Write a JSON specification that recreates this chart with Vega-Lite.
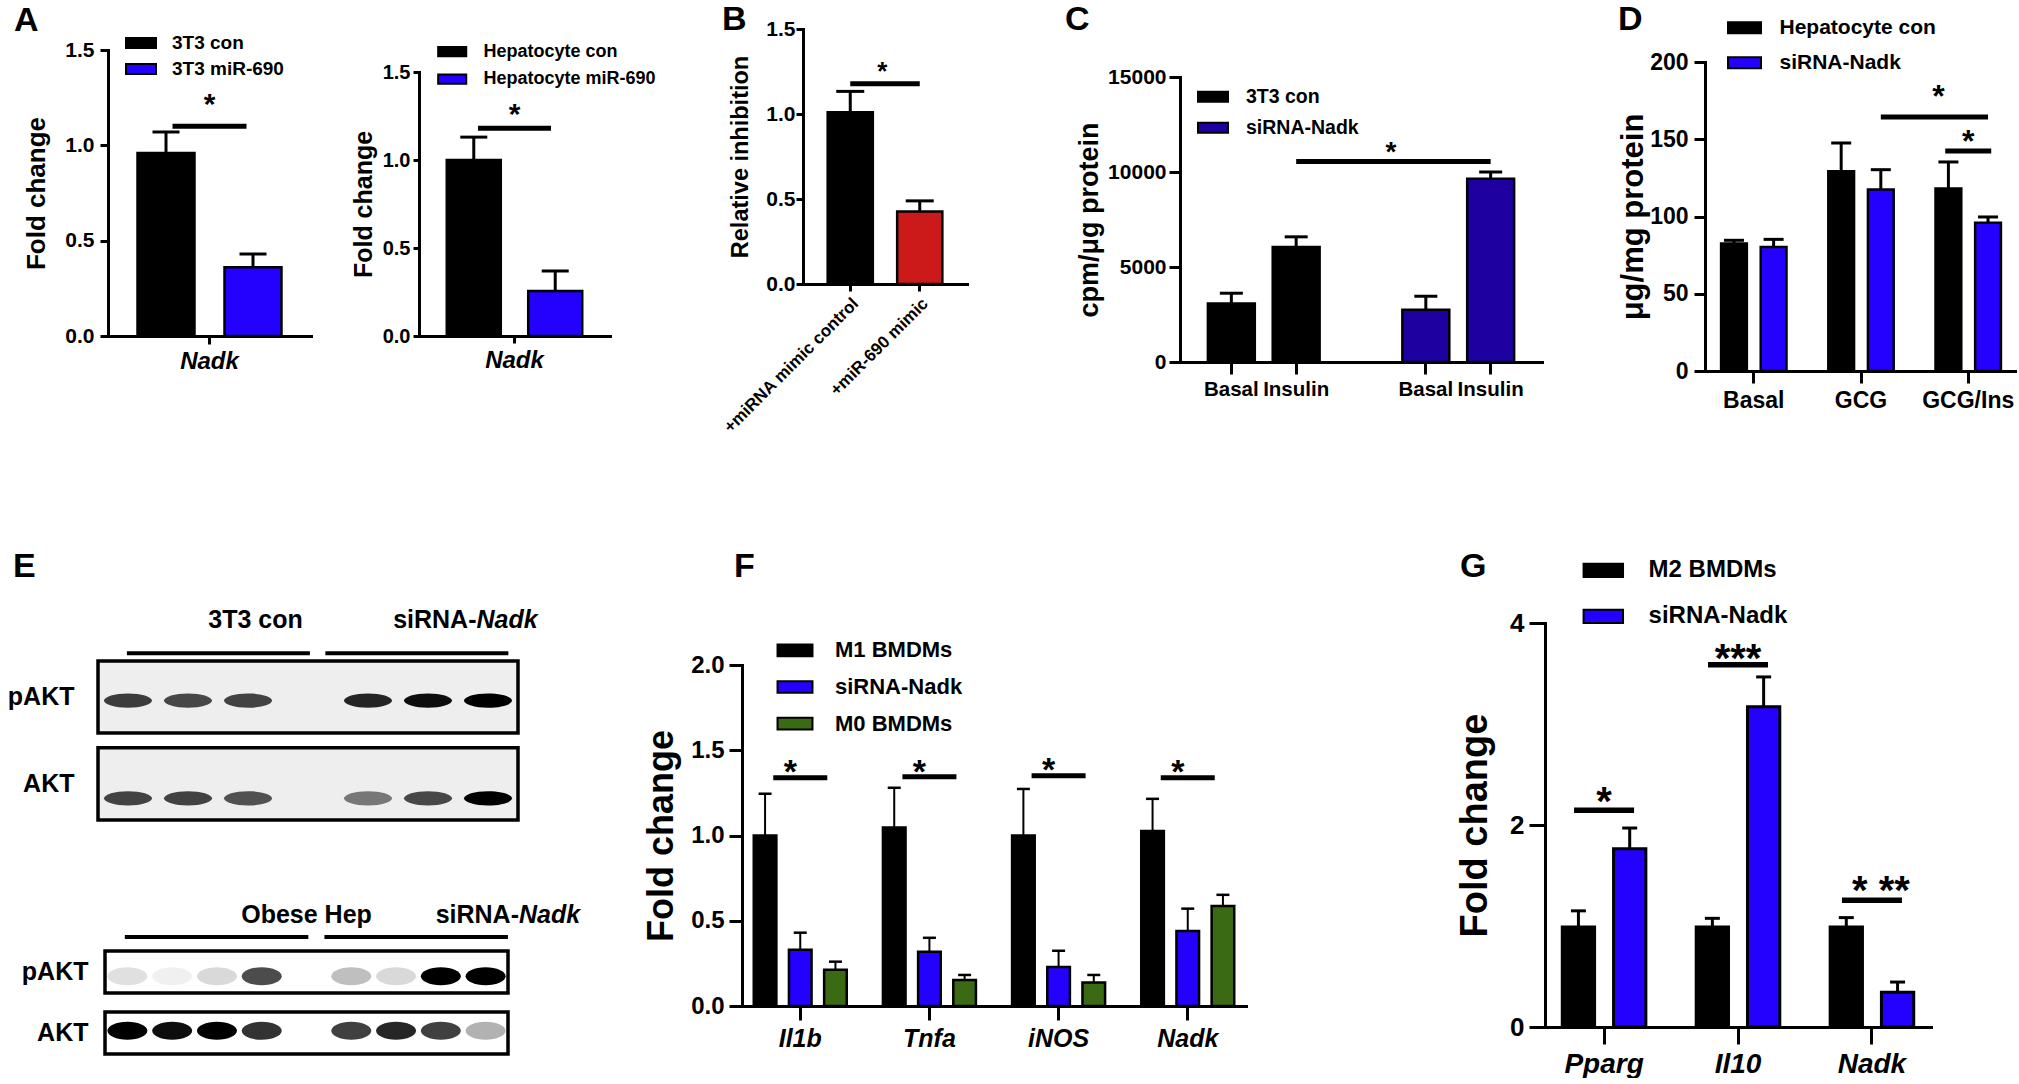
{
"$schema":"https://vega.github.io/schema/vega-lite/v6.json",
"background":"white",
"padding":0,
"autosize":{"type":"pad"},
"config":{
 "view":{"stroke":null},
 "font":"Liberation Sans",
 "axis":{"domainColor":"black","domainWidth":3,"domainCap":"square","tickColor":"black","tickWidth":3,"labelColor":"black","labelFont":"Liberation Sans","labelFontWeight":"bold","labelLimit":400,"titleColor":"black","titleFont":"Liberation Sans","titleFontWeight":"bold","grid":false},
 "legend":{"labelFont":"Liberation Sans","labelColor":"black","labelFontWeight":"bold","labelLimit":500,"padding":0,"symbolStrokeColor":"black","symbolStrokeWidth":2,"symbolOpacity":1},
 "tick":{"opacity":1},
 "text":{"font":"Liberation Sans","color":"black"},
 "title":{"font":"Liberation Sans","color":"black"}
},
"spacing":0,
"resolve":{"scale":{"color":"independent","xOffset":"independent","opacity":"independent"},"legend":{"color":"independent","opacity":"independent"}},
"vconcat":[
{"hconcat":[
 {"width":108,"height":440,"data":{"values":[]},"mark":"text"},
 {"vconcat":[
  {"width":1,"height":50,"data":{"values":[]},"mark":"text","title":{"text":"A","orient":"bottom","anchor":"start","frame":"group","baseline":"alphabetic","offset":-19,"dx":-94,"fontSize":34,"fontWeight":"bold"}},
  {"width":203,"height":286,
   "data":{"values":[
    {"gene":"Nadk","group":"3T3 con","mean":0.96,"upper":1.07},
    {"gene":"Nadk","group":"3T3 miR-690","mean":0.36,"upper":0.43}]},
   "encoding":{"x":{"field":"gene","type":"nominal","scale":{"paddingInner":0,"paddingOuter":0.205},"axis":{"title":null,"labelAngle":0,"labelFontSize":24,"labelFontStyle":"italic","tickSize":8,"labelPadding":5}}},
   "layer":[
    {"mark":{"type":"rule","color":"black","strokeWidth":3},"encoding":{"xOffset":{"field":"group","type":"nominal","scale":{"domain":["3T3 con","3T3 miR-690"],"paddingInner":0.345,"paddingOuter":0}},"y":{"field":"mean","type":"quantitative","title":"Fold change","scale":{"domain":[0,1.5]}},"y2":{"field":"upper"}}},
    {"mark":{"type":"tick","orient":"horizontal","color":"black","opacity":1,"size":27,"thickness":3},"encoding":{"xOffset":{"field":"group","type":"nominal","scale":{"domain":["3T3 con","3T3 miR-690"],"paddingInner":0.345,"paddingOuter":0}},"y":{"field":"upper","type":"quantitative","title":"Fold change","scale":{"domain":[0,1.5]}}}},
    {"mark":{"type":"bar","stroke":"black","strokeWidth":2.5},"encoding":{"xOffset":{"field":"group","type":"nominal","scale":{"domain":["3T3 con","3T3 miR-690"],"paddingInner":0.345,"paddingOuter":0}},"y":{"field":"mean","type":"quantitative","title":"Fold change","scale":{"domain":[0,1.5]},"axis":{"values":[0,0.5,1,1.5],"format":".1f","labelFontSize":21,"tickSize":8,"labelPadding":6,"titleFontSize":26,"titlePadding":15}},"color":{"field":"group","type":"nominal","scale":{"domain":["3T3 con","3T3 miR-690"],"range":["#000000","#2400ff"]},"legend":{"orient":"none","legendX":22,"legendY":-18,"title":null,"symbolType":"M-1.5,-0.5H1.5V0.5H-1.5Z","symbolSize":400,"labelFontSize":19,"labelOffset":20,"rowPadding":5}}}},
    {"data":{"values":[{"gene":"Nadk","level":1.1}]},"mark":{"type":"tick","orient":"horizontal","color":"black","opacity":1,"size":74,"thickness":5},"encoding":{"y":{"field":"level","type":"quantitative","title":"Fold change","scale":{"domain":[0,1.5]}}}},
    {"data":{"values":[{"gene":"Nadk","level":1.162,"label":"*"}]},"mark":{"type":"text","fontSize":30,"fontWeight":"bold","baseline":"alphabetic"},"encoding":{"y":{"field":"level","type":"quantitative","title":"Fold change","scale":{"domain":[0,1.5]}},"text":{"field":"label"}}}
   ]}
 ],"spacing":0,"bounds":"flush","resolve":{"scale":{"color":"independent","xOffset":"independent","opacity":"independent"},"legend":{"color":"independent","opacity":"independent"}}},
 {"width":311,"height":1,"data":{"values":[]},"mark":"text"},
 {"vconcat":[
  {"width":1,"height":72,"data":{"values":[]},"mark":"text"},
  {"width":191,"height":264,
   "data":{"values":[
    {"gene":"Nadk","group":"Hepatocyte con","mean":1.0,"upper":1.13},
    {"gene":"Nadk","group":"Hepatocyte miR-690","mean":0.255,"upper":0.37}]},
   "encoding":{"x":{"field":"gene","type":"nominal","scale":{"paddingInner":0,"paddingOuter":0.205},"axis":{"title":null,"labelAngle":0,"labelFontSize":24,"labelFontStyle":"italic","tickSize":7,"labelPadding":5}}},
   "layer":[
    {"mark":{"type":"rule","color":"black","strokeWidth":3},"encoding":{"xOffset":{"field":"group","type":"nominal","scale":{"domain":["Hepatocyte con","Hepatocyte miR-690"],"paddingInner":0.337,"paddingOuter":0}},"y":{"field":"mean","type":"quantitative","title":"Fold change","scale":{"domain":[0,1.5]}},"y2":{"field":"upper"}}},
    {"mark":{"type":"tick","orient":"horizontal","color":"black","opacity":1,"size":27,"thickness":3},"encoding":{"xOffset":{"field":"group","type":"nominal","scale":{"domain":["Hepatocyte con","Hepatocyte miR-690"],"paddingInner":0.337,"paddingOuter":0}},"y":{"field":"upper","type":"quantitative","title":"Fold change","scale":{"domain":[0,1.5]}}}},
    {"mark":{"type":"bar","stroke":"black","strokeWidth":2.5},"encoding":{"xOffset":{"field":"group","type":"nominal","scale":{"domain":["Hepatocyte con","Hepatocyte miR-690"],"paddingInner":0.337,"paddingOuter":0}},"y":{"field":"mean","type":"quantitative","title":"Fold change","scale":{"domain":[0,1.5]},"axis":{"values":[0,0.5,1,1.5],"format":".1f","labelFontSize":20,"tickSize":6,"labelPadding":3,"titleFontSize":25,"titlePadding":6}},"color":{"field":"group","type":"nominal","scale":{"domain":["Hepatocyte con","Hepatocyte miR-690"],"range":["#000000","#2400ff"]},"legend":{"orient":"none","legendX":22.7,"legendY":-30.9,"title":null,"symbolType":"M-1.5,-0.5H1.5V0.5H-1.5Z","symbolSize":350,"labelFontSize":18,"labelOffset":20.7,"rowPadding":7.5}}}},
    {"data":{"values":[{"gene":"Nadk","level":1.181}]},"mark":{"type":"tick","orient":"horizontal","color":"black","opacity":1,"size":73,"thickness":5},"encoding":{"y":{"field":"level","type":"quantitative","title":"Fold change","scale":{"domain":[0,1.5]}}}},
    {"data":{"values":[{"gene":"Nadk","level":1.206,"label":"*"}]},"mark":{"type":"text","fontSize":30,"fontWeight":"bold","baseline":"alphabetic"},"encoding":{"y":{"field":"level","type":"quantitative","title":"Fold change","scale":{"domain":[0,1.5]}},"text":{"field":"label"}}}
   ]}
 ],"spacing":0,"bounds":"flush","resolve":{"scale":{"color":"independent","xOffset":"independent","opacity":"independent"},"legend":{"color":"independent","opacity":"independent"}}},
 {"width":384,"height":1,"data":{"values":[]},"mark":"text"},
 {"vconcat":[
  {"width":1,"height":29,"data":{"values":[]},"mark":"text","title":{"text":"B","orient":"bottom","anchor":"start","frame":"group","baseline":"alphabetic","offset":1,"dx":-81,"fontSize":34,"fontWeight":"bold"}},
  {"width":164,"height":255,
   "data":{"values":[
    {"cond":"+miRNA mimic control","mean":1.01,"upper":1.133},
    {"cond":"+miR-690 mimic","mean":0.426,"upper":0.489}]},
   "encoding":{"x":{"field":"cond","type":"nominal","scale":{"domain":["+miRNA mimic control","+miR-690 mimic"],"paddingInner":0.35,"paddingOuter":0.355},"axis":{"title":null,"labelAngle":-45,"labelFontSize":17,"labelLimit":400,"tickSize":7,"labelPadding":4}}},
   "layer":[
    {"mark":{"type":"rule","color":"black","strokeWidth":3},"encoding":{"y":{"field":"mean","type":"quantitative","title":"Relative inhibition","scale":{"domain":[0,1.5]}},"y2":{"field":"upper"}}},
    {"mark":{"type":"tick","orient":"horizontal","color":"black","opacity":1,"size":28,"thickness":3},"encoding":{"y":{"field":"upper","type":"quantitative","title":"Relative inhibition","scale":{"domain":[0,1.5]}}}},
    {"mark":{"type":"bar","stroke":"black","strokeWidth":2.5},"encoding":{"y":{"field":"mean","type":"quantitative","title":"Relative inhibition","scale":{"domain":[0,1.5]},"axis":{"values":[0,0.5,1,1.5],"format":".1f","labelFontSize":21,"tickSize":7,"labelPadding":1,"titleFontSize":23.5,"titlePadding":13}},"color":{"field":"cond","type":"nominal","scale":{"domain":["+miRNA mimic control","+miR-690 mimic"],"range":["#000000","#cc1a1a"]},"legend":null}}},
    {"data":{"values":[{"cond":"+miRNA mimic control","level":1.178,"id":"b"},{"cond":"+miR-690 mimic","level":1.178,"id":"b"}]},"mark":{"type":"line","color":"black","strokeWidth":5},"encoding":{"y":{"field":"level","type":"quantitative","title":"Relative inhibition","scale":{"domain":[0,1.5]}},"detail":{"field":"id"}}},
    {"data":{"values":[{"cond":"+miRNA mimic control","level":1.2,"label":"*"}]},"mark":{"type":"text","fontSize":26,"fontWeight":"bold","baseline":"alphabetic","dx":32},"encoding":{"y":{"field":"level","type":"quantitative","title":"Relative inhibition","scale":{"domain":[0,1.5]}},"text":{"field":"label"}}}
   ]}
 ],"spacing":0,"bounds":"flush","resolve":{"scale":{"color":"independent","xOffset":"independent","opacity":"independent"},"legend":{"color":"independent","opacity":"independent"}}},
 {"width":377,"height":1,"data":{"values":[]},"mark":"text"},
 {"vconcat":[
  {"width":1,"height":77,"data":{"values":[]},"mark":"text","title":{"text":"C","orient":"bottom","anchor":"start","frame":"group","baseline":"alphabetic","offset":-47,"dx":-115,"fontSize":34,"fontWeight":"bold"}},
  {"width":362,"height":285,
   "data":{"values":[
    {"bar":"con|Basal","group":"3T3 con","mean":3074,"upper":3620},
    {"bar":"con|Insulin","group":"3T3 con","mean":6058,"upper":6588},
    {"bar":"si|Basal","group":"siRNA-Nadk","mean":2756,"upper":3461},
    {"bar":"si|Insulin","group":"siRNA-Nadk","mean":9646,"upper":10000}]},
   "encoding":{"x":{"field":"bar","type":"nominal","scale":{"domain":["con|Basal","con|Insulin","gap","si|Basal","si|Insulin"],"paddingInner":0.276,"paddingOuter":0.43},"axis":{"title":null,"values":["con|Basal","con|Insulin","si|Basal","si|Insulin"],"labelExpr":"split(datum.label,'|')[1]","labelAngle":0,"labelFontSize":20.5,"tickSize":12,"labelPadding":5}}},
   "layer":[
    {"mark":{"type":"rule","color":"black","strokeWidth":3},"encoding":{"y":{"field":"mean","type":"quantitative","title":"cpm/μg protein","scale":{"domain":[0,15000]}},"y2":{"field":"upper"}}},
    {"mark":{"type":"tick","orient":"horizontal","color":"black","opacity":1,"size":23,"thickness":3},"encoding":{"y":{"field":"upper","type":"quantitative","title":"cpm/μg protein","scale":{"domain":[0,15000]}}}},
    {"mark":{"type":"bar","stroke":"black","strokeWidth":2.5},"encoding":{"y":{"field":"mean","type":"quantitative","title":"cpm/μg protein","scale":{"domain":[0,15000]},"axis":{"values":[0,5000,10000,15000],"format":"d","labelFontSize":21,"tickSize":11,"labelPadding":3,"titleFontSize":27,"titlePadding":4}},"color":{"field":"group","type":"nominal","scale":{"domain":["3T3 con","siRNA-Nadk"],"range":["#000000","#1e00a0"]},"legend":{"orient":"none","legendX":22,"legendY":8.7,"title":null,"symbolType":"M-1.5,-0.5H1.5V0.5H-1.5Z","symbolSize":400,"labelFontSize":19.5,"labelOffset":22,"rowPadding":10}}}},
    {"data":{"values":[{"bar":"con|Insulin","level":10547,"id":"c"},{"bar":"si|Insulin","level":10547,"id":"c"}]},"mark":{"type":"line","color":"black","strokeWidth":5},"encoding":{"y":{"field":"level","type":"quantitative","title":"cpm/μg protein","scale":{"domain":[0,15000]}},"detail":{"field":"id"}}},
    {"data":{"values":[{"bar":"gap","level":10579,"label":"*"}]},"mark":{"type":"text","fontSize":28,"fontWeight":"bold","baseline":"alphabetic","dx":30},"encoding":{"y":{"field":"level","type":"quantitative","title":"cpm/μg protein","scale":{"domain":[0,15000]}},"text":{"field":"label"}}}
   ]}
 ],"spacing":0,"bounds":"flush","resolve":{"scale":{"color":"independent","xOffset":"independent","opacity":"independent"},"legend":{"color":"independent","opacity":"independent"}}},
 {"width":525,"height":1,"data":{"values":[]},"mark":"text"},
 {"vconcat":[
  {"width":1,"height":62,"data":{"values":[]},"mark":"text","title":{"text":"D","orient":"bottom","anchor":"start","frame":"group","baseline":"alphabetic","offset":-32,"dx":-87,"fontSize":34,"fontWeight":"bold"}},
  {"width":312,"height":309,
   "data":{"values":[
    {"cond":"Basal","series":"Hepatocyte con","mean":82.5,"upper":84.6},
    {"cond":"Basal","series":"siRNA-Nadk","mean":80.3,"upper":85.2},
    {"cond":"GCG","series":"Hepatocyte con","mean":129.3,"upper":147.6},
    {"cond":"GCG","series":"siRNA-Nadk","mean":117.4,"upper":130.3},
    {"cond":"GCG/Ins","series":"Hepatocyte con","mean":118.1,"upper":135.3},
    {"cond":"GCG/Ins","series":"siRNA-Nadk","mean":96.0,"upper":99.7}]},
   "encoding":{"x":{"field":"cond","type":"nominal","scale":{"domain":["Basal","GCG","GCG/Ins"],"paddingInner":0.39,"paddingOuter":0.15},"axis":{"title":null,"labelAngle":0,"labelFontSize":23,"tickSize":12,"labelPadding":6}}},
   "layer":[
    {"mark":{"type":"rule","color":"black","strokeWidth":3},"encoding":{"xOffset":{"field":"series","type":"nominal","scale":{"domain":["Hepatocyte con","siRNA-Nadk"],"paddingInner":0.35,"paddingOuter":0}},"y":{"field":"mean","type":"quantitative","title":"μg/mg protein","scale":{"domain":[0,200]}},"y2":{"field":"upper"}}},
    {"mark":{"type":"tick","orient":"horizontal","color":"black","opacity":1,"size":20,"thickness":3},"encoding":{"xOffset":{"field":"series","type":"nominal","scale":{"domain":["Hepatocyte con","siRNA-Nadk"],"paddingInner":0.35,"paddingOuter":0}},"y":{"field":"upper","type":"quantitative","title":"μg/mg protein","scale":{"domain":[0,200]}}}},
    {"mark":{"type":"bar","stroke":"black","strokeWidth":2.5},"encoding":{"xOffset":{"field":"series","type":"nominal","scale":{"domain":["Hepatocyte con","siRNA-Nadk"],"paddingInner":0.35,"paddingOuter":0}},"y":{"field":"mean","type":"quantitative","title":"μg/mg protein","scale":{"domain":[0,200]},"axis":{"values":[0,50,100,150,200],"labelFontSize":23,"tickSize":11,"labelPadding":6,"titleFontSize":31,"titlePadding":0}},"color":{"field":"series","type":"nominal","scale":{"domain":["Hepatocyte con","siRNA-Nadk"],"range":["#000000","#2400ff"]},"legend":{"orient":"none","legendX":27.5,"legendY":-46.3,"title":null,"symbolType":"M-1.5,-0.5H1.5V0.5H-1.5Z","symbolSize":484,"labelFontSize":21,"labelOffset":23,"rowPadding":13}}}},
    {"data":{"values":[{"cond":"GCG","series":"siRNA-Nadk","level":164.4,"id":"u"},{"cond":"GCG/Ins","series":"siRNA-Nadk","level":164.4,"id":"u"}]},"mark":{"type":"line","color":"black","strokeWidth":5},"encoding":{"xOffset":{"field":"series","type":"nominal","scale":{"domain":["Hepatocyte con","siRNA-Nadk"],"paddingInner":0.35,"paddingOuter":0}},"y":{"field":"level","type":"quantitative","title":"μg/mg protein","scale":{"domain":[0,200]}},"detail":{"field":"id"}}},
    {"data":{"values":[{"cond":"GCG/Ins","level":142.4}]},"mark":{"type":"tick","orient":"horizontal","color":"black","opacity":1,"size":46,"thickness":5},"encoding":{"y":{"field":"level","type":"quantitative","title":"μg/mg protein","scale":{"domain":[0,200]}}}},
    {"data":{"values":[{"cond":"GCG/Ins","series":"Hepatocyte con","level":170.8,"label":"*"}]},"mark":{"type":"text","fontSize":32,"fontWeight":"bold","baseline":"alphabetic","dx":-10},"encoding":{"xOffset":{"field":"series","type":"nominal","scale":{"domain":["Hepatocyte con","siRNA-Nadk"],"paddingInner":0.35,"paddingOuter":0}},"y":{"field":"level","type":"quantitative","title":"μg/mg protein","scale":{"domain":[0,200]}},"text":{"field":"label"}}},
    {"data":{"values":[{"cond":"GCG/Ins","level":141.7,"label":"*"}]},"mark":{"type":"text","fontSize":32,"fontWeight":"bold","baseline":"alphabetic"},"encoding":{"y":{"field":"level","type":"quantitative","title":"μg/mg protein","scale":{"domain":[0,200]}},"text":{"field":"label"}}}
   ]}
 ],"spacing":0,"bounds":"flush","resolve":{"scale":{"color":"independent","xOffset":"independent","opacity":"independent"},"legend":{"color":"independent","opacity":"independent"}}}
],"spacing":0,"bounds":"flush","resolve":{"scale":{"color":"independent","xOffset":"independent","opacity":"independent"},"legend":{"color":"independent","opacity":"independent"}}},
{"hconcat":[
 {"width":98,"height":1,"data":{"values":[]},"mark":"text"},
 {"vconcat":[
  {"width":1,"height":134,"data":{"values":[]},"mark":"text","title":{"text":"E","orient":"bottom","anchor":"start","frame":"group","baseline":"alphabetic","offset":3,"dx":-85,"fontSize":34,"fontWeight":"bold"}},
  {"width":420,"height":246,
   "data":{"values":[
    {"lane":"c1","row":"pAKT","intensity":0.75},{"lane":"c2","row":"pAKT","intensity":0.7},{"lane":"c3","row":"pAKT","intensity":0.72},
    {"lane":"s1","row":"pAKT","intensity":0.85},{"lane":"s2","row":"pAKT","intensity":0.95},{"lane":"s3","row":"pAKT","intensity":1.0},
    {"lane":"c1","row":"AKT","intensity":0.72},{"lane":"c2","row":"AKT","intensity":0.72},{"lane":"c3","row":"AKT","intensity":0.66},
    {"lane":"s1","row":"AKT","intensity":0.5},{"lane":"s2","row":"AKT","intensity":0.7},{"lane":"s3","row":"AKT","intensity":1.0}]},
   "layer":[
    {"data":{"values":[{"row":"pAKT"},{"row":"AKT"}]},"mark":{"type":"rect","fill":"#eeeeee","stroke":"black","strokeWidth":3.5},"encoding":{"y":{"field":"row","type":"nominal","scale":{"domain":["hdr","pAKT","AKT"],"paddingInner":0.17,"paddingOuter":0},"axis":{"title":null,"domain":false,"ticks":false,"labelFontSize":25,"labelPadding":24,"labelExpr":"datum.value == 'hdr' ? '' : datum.value"}}}},
    {"transform":[{"filter":"datum.row == 'pAKT'"}],"mark":{"type":"point","shape":"M-1,0A1,0.3 0 1,0 1,0A1,0.3 0 1,0 -1,0Z","filled":true,"color":"black","size":2300,"strokeWidth":0},"encoding":{"x":{"field":"lane","type":"nominal","scale":{"domain":["c1","c2","c3","gap","s1","s2","s3"],"paddingInner":0,"paddingOuter":0.07},"axis":null},"y":{"field":"row","type":"nominal","bandPosition":0.55,"scale":{"domain":["hdr","pAKT","AKT"],"paddingInner":0.17,"paddingOuter":0}},"opacity":{"field":"intensity","type":"quantitative","scale":{"domain":[0,1],"range":[0,1]},"legend":null}}},
    {"transform":[{"filter":"datum.row == 'AKT'"}],"mark":{"type":"point","shape":"M-1,0A1,0.3 0 1,0 1,0A1,0.3 0 1,0 -1,0Z","filled":true,"color":"black","size":2300,"strokeWidth":0},"encoding":{"x":{"field":"lane","type":"nominal","scale":{"domain":["c1","c2","c3","gap","s1","s2","s3"],"paddingInner":0,"paddingOuter":0.07},"axis":null},"y":{"field":"row","type":"nominal","bandPosition":0.7,"scale":{"domain":["hdr","pAKT","AKT"],"paddingInner":0.17,"paddingOuter":0}},"opacity":{"field":"intensity","type":"quantitative","scale":{"domain":[0,1],"range":[0,1]},"legend":null}}},
    {"data":{"values":[{"grp":"con","row":"hdr"},{"grp":"si","row":"hdr"}]},"mark":{"type":"tick","orient":"horizontal","color":"black","opacity":1,"size":183,"thickness":4},"encoding":{"x":{"field":"grp","type":"nominal","scale":{"domain":["con","si"],"paddingInner":0.078,"paddingOuter":0.097,"align":0.75},"axis":null},"y":{"field":"row","type":"nominal","bandPosition":1.1,"scale":{"domain":["hdr","pAKT","AKT"],"paddingInner":0.17,"paddingOuter":0}}}},
    {"data":{"values":[{"grp":"con","row":"hdr","label":"3T3 con"}]},"mark":{"type":"text","fontSize":25,"fontWeight":"bold","align":"center","baseline":"middle"},"encoding":{"x":{"field":"grp","type":"nominal","scale":{"domain":["con","si"],"paddingInner":0.078,"paddingOuter":0.097,"align":0.75},"axis":null},"y":{"field":"row","type":"nominal","bandPosition":0.64,"scale":{"domain":["hdr","pAKT","AKT"],"paddingInner":0.17,"paddingOuter":0}},"text":{"field":"label"}}},
    {"data":{"values":[{"grp":"si","row":"hdr","label":"siRNA-"}]},"mark":{"type":"text","fontSize":25,"fontWeight":"bold","align":"right","baseline":"middle","dx":11},"encoding":{"x":{"field":"grp","type":"nominal","scale":{"domain":["con","si"],"paddingInner":0.078,"paddingOuter":0.097,"align":0.75},"axis":null},"y":{"field":"row","type":"nominal","bandPosition":0.64,"scale":{"domain":["hdr","pAKT","AKT"],"paddingInner":0.17,"paddingOuter":0}},"text":{"field":"label"}}},
    {"data":{"values":[{"grp":"si","row":"hdr","label":"Nadk"}]},"mark":{"type":"text","fontSize":25,"fontWeight":"bold","fontStyle":"italic","align":"left","baseline":"middle","dx":11},"encoding":{"x":{"field":"grp","type":"nominal","scale":{"domain":["con","si"],"paddingInner":0.078,"paddingOuter":0.097,"align":0.75},"axis":null},"y":{"field":"row","type":"nominal","bandPosition":0.64,"scale":{"domain":["hdr","pAKT","AKT"],"paddingInner":0.17,"paddingOuter":0}},"text":{"field":"label"}}}
   ],
   "resolve":{"scale":{"x":"independent"}}},
  {"width":1,"height":70,"data":{"values":[]},"mark":"text"},
  {"hconcat":[
   {"width":7,"height":1,"data":{"values":[]},"mark":"text"},
   {"width":403,"height":164,
    "data":{"values":[
     {"lane":"o1","row":"pAKT","intensity":0.12},{"lane":"o2","row":"pAKT","intensity":0.06},{"lane":"o3","row":"pAKT","intensity":0.15},{"lane":"o4","row":"pAKT","intensity":0.7},
     {"lane":"s1","row":"pAKT","intensity":0.25},{"lane":"s2","row":"pAKT","intensity":0.15},{"lane":"s3","row":"pAKT","intensity":1.0},{"lane":"s4","row":"pAKT","intensity":1.0},
     {"lane":"o1","row":"AKT","intensity":1.0},{"lane":"o2","row":"AKT","intensity":0.95},{"lane":"o3","row":"AKT","intensity":1.0},{"lane":"o4","row":"AKT","intensity":0.8},
     {"lane":"s1","row":"AKT","intensity":0.75},{"lane":"s2","row":"AKT","intensity":0.85},{"lane":"s3","row":"AKT","intensity":0.75},{"lane":"s4","row":"AKT","intensity":0.3}]},
    "layer":[
     {"data":{"values":[{"row":"pAKT"},{"row":"AKT"}]},"mark":{"type":"rect","fill":"white","stroke":"black","strokeWidth":3.5},"encoding":{"y":{"field":"row","type":"nominal","scale":{"domain":["hdr","pAKT","AKT"],"paddingInner":0.31,"paddingOuter":0},"axis":{"title":null,"domain":false,"ticks":false,"labelFontSize":25,"labelPadding":17,"labelExpr":"datum.value == 'hdr' ? '' : datum.value"}}}},
     {"transform":[{"filter":"datum.row == 'pAKT'"}],"mark":{"type":"point","shape":"M-1,0A1,0.45 0 1,0 1,0A1,0.45 0 1,0 -1,0Z","filled":true,"color":"black","size":1600,"strokeWidth":0},"encoding":{"x":{"field":"lane","type":"nominal","scale":{"domain":["o1","o2","o3","o4","gap","s1","s2","s3","s4"],"paddingInner":0,"paddingOuter":0.45},"axis":null},"y":{"field":"row","type":"nominal","bandPosition":0.6,"scale":{"domain":["hdr","pAKT","AKT"],"paddingInner":0.31,"paddingOuter":0}},"opacity":{"field":"intensity","type":"quantitative","scale":{"domain":[0,1],"range":[0,1]},"legend":null}}},
     {"transform":[{"filter":"datum.row == 'AKT'"}],"mark":{"type":"point","shape":"M-1,0A1,0.45 0 1,0 1,0A1,0.45 0 1,0 -1,0Z","filled":true,"color":"black","size":1600,"strokeWidth":0},"encoding":{"x":{"field":"lane","type":"nominal","scale":{"domain":["o1","o2","o3","o4","gap","s1","s2","s3","s4"],"paddingInner":0,"paddingOuter":0.45},"axis":null},"y":{"field":"row","type":"nominal","bandPosition":0.45,"scale":{"domain":["hdr","pAKT","AKT"],"paddingInner":0.31,"paddingOuter":0}},"opacity":{"field":"intensity","type":"quantitative","scale":{"domain":[0,1],"range":[0,1]},"legend":null}}},
     {"data":{"values":[{"grp":"con","row":"hdr"},{"grp":"si","row":"hdr"}]},"mark":{"type":"tick","orient":"horizontal","color":"black","opacity":1,"size":183.5,"thickness":4},"encoding":{"x":{"field":"grp","type":"nominal","scale":{"domain":["con","si"],"paddingInner":0.08,"paddingOuter":0.0495,"align":1},"axis":null},"y":{"field":"row","type":"nominal","bandPosition":1.12,"scale":{"domain":["hdr","pAKT","AKT"],"paddingInner":0.31,"paddingOuter":0}}}},
     {"data":{"values":[{"grp":"con","row":"hdr","label":"Obese Hep"}]},"mark":{"type":"text","fontSize":25,"fontWeight":"bold","align":"center","baseline":"middle"},"encoding":{"x":{"field":"grp","type":"nominal","scale":{"domain":["con","si"],"paddingInner":0.08,"paddingOuter":0.0495,"align":1},"axis":null},"y":{"field":"row","type":"nominal","bandPosition":0.585,"scale":{"domain":["hdr","pAKT","AKT"],"paddingInner":0.31,"paddingOuter":0}},"text":{"field":"label"}}},
     {"data":{"values":[{"grp":"si","row":"hdr","label":"siRNA-"}]},"mark":{"type":"text","fontSize":25,"fontWeight":"bold","align":"right","baseline":"middle","dx":11},"encoding":{"x":{"field":"grp","type":"nominal","scale":{"domain":["con","si"],"paddingInner":0.08,"paddingOuter":0.0495,"align":1},"axis":null},"y":{"field":"row","type":"nominal","bandPosition":0.585,"scale":{"domain":["hdr","pAKT","AKT"],"paddingInner":0.31,"paddingOuter":0}},"text":{"field":"label"}}},
     {"data":{"values":[{"grp":"si","row":"hdr","label":"Nadk"}]},"mark":{"type":"text","fontSize":25,"fontWeight":"bold","fontStyle":"italic","align":"left","baseline":"middle","dx":11},"encoding":{"x":{"field":"grp","type":"nominal","scale":{"domain":["con","si"],"paddingInner":0.08,"paddingOuter":0.0495,"align":1},"axis":null},"y":{"field":"row","type":"nominal","bandPosition":0.585,"scale":{"domain":["hdr","pAKT","AKT"],"paddingInner":0.31,"paddingOuter":0}},"text":{"field":"label"}}}
    ],
    "resolve":{"scale":{"x":"independent"}}}
  ],"spacing":0,"bounds":"flush","resolve":{"scale":{"color":"independent","xOffset":"independent","opacity":"independent"},"legend":{"color":"independent","opacity":"independent"}}}
 ],"spacing":0,"bounds":"flush","resolve":{"scale":{"color":"independent","xOffset":"independent","opacity":"independent"},"legend":{"color":"independent","opacity":"independent"}}},
 {"width":644,"height":1,"data":{"values":[]},"mark":"text"},
 {"vconcat":[
  {"width":1,"height":225,"data":{"values":[]},"mark":"text","title":{"text":"F","orient":"bottom","anchor":"start","frame":"group","baseline":"alphabetic","offset":-88,"dx":-8,"fontSize":34,"fontWeight":"bold"}},
  {"width":504,"height":341,
   "data":{"values":[
    {"gene":"Il1b","series":"M1 BMDMs","mean":1.0,"upper":1.245},
    {"gene":"Il1b","series":"siRNA-Nadk","mean":0.33,"upper":0.43},
    {"gene":"Il1b","series":"M0 BMDMs","mean":0.213,"upper":0.26},
    {"gene":"Tnfa","series":"M1 BMDMs","mean":1.047,"upper":1.28},
    {"gene":"Tnfa","series":"siRNA-Nadk","mean":0.318,"upper":0.4},
    {"gene":"Tnfa","series":"M0 BMDMs","mean":0.152,"upper":0.182},
    {"gene":"iNOS","series":"M1 BMDMs","mean":1.0,"upper":1.273},
    {"gene":"iNOS","series":"siRNA-Nadk","mean":0.229,"upper":0.324},
    {"gene":"iNOS","series":"M0 BMDMs","mean":0.138,"upper":0.182},
    {"gene":"Nadk","series":"M1 BMDMs","mean":1.026,"upper":1.215},
    {"gene":"Nadk","series":"siRNA-Nadk","mean":0.44,"upper":0.571},
    {"gene":"Nadk","series":"M0 BMDMs","mean":0.587,"upper":0.652}]},
   "encoding":{"x":{"field":"gene","type":"nominal","scale":{"domain":["Il1b","Tnfa","iNOS","Nadk"],"paddingInner":0.28,"paddingOuter":0.091},"axis":{"title":null,"labelAngle":0,"labelFontSize":25,"labelFontStyle":"italic","tickSize":14,"labelPadding":6}}},
   "layer":[
    {"mark":{"type":"rule","color":"black","strokeWidth":2},"encoding":{"xOffset":{"field":"series","type":"nominal","scale":{"domain":["M1 BMDMs","siRNA-Nadk","M0 BMDMs"],"paddingInner":0.357,"paddingOuter":0}},"y":{"field":"mean","type":"quantitative","title":"Fold change","scale":{"domain":[0,2]}},"y2":{"field":"upper"}}},
    {"mark":{"type":"tick","orient":"horizontal","color":"black","opacity":1,"size":13,"thickness":2.5},"encoding":{"xOffset":{"field":"series","type":"nominal","scale":{"domain":["M1 BMDMs","siRNA-Nadk","M0 BMDMs"],"paddingInner":0.357,"paddingOuter":0}},"y":{"field":"upper","type":"quantitative","title":"Fold change","scale":{"domain":[0,2]}}}},
    {"mark":{"type":"bar","stroke":"black","strokeWidth":2.5},"encoding":{"xOffset":{"field":"series","type":"nominal","scale":{"domain":["M1 BMDMs","siRNA-Nadk","M0 BMDMs"],"paddingInner":0.357,"paddingOuter":0}},"y":{"field":"mean","type":"quantitative","title":"Fold change","scale":{"domain":[0,2]},"axis":{"values":[0,0.5,1,1.5,2],"format":".1f","labelFontSize":24,"tickSize":13,"labelPadding":5,"titleFontSize":36,"titlePadding":10}},"color":{"field":"series","type":"nominal","scale":{"domain":["M1 BMDMs","siRNA-Nadk","M0 BMDMs"],"range":["#000000","#2400ff","#3a6b14"]},"legend":{"orient":"none","legendX":40,"legendY":-27.7,"title":null,"symbolType":"M-1.5,-0.5H1.5V0.5H-1.5Z","symbolSize":543,"labelFontSize":22,"labelOffset":27,"rowPadding":12.7}}}},
    {"data":{"values":[{"gene":"Il1b","level":1.338},{"gene":"Tnfa","level":1.345},{"gene":"iNOS","level":1.35},{"gene":"Nadk","level":1.338}]},"mark":{"type":"tick","orient":"horizontal","color":"black","opacity":1,"size":54,"thickness":5},"encoding":{"y":{"field":"level","type":"quantitative","title":"Fold change","scale":{"domain":[0,2]}}}},
    {"data":{"values":[{"gene":"Il1b","level":1.305,"label":"*"},{"gene":"Tnfa","level":1.31,"label":"*"},{"gene":"iNOS","level":1.32,"label":"*"},{"gene":"Nadk","level":1.305,"label":"*"}]},"mark":{"type":"text","fontSize":34,"fontWeight":"bold","baseline":"alphabetic","dx":-10},"encoding":{"y":{"field":"level","type":"quantitative","title":"Fold change","scale":{"domain":[0,2]}},"text":{"field":"label"}}}
   ]}
 ],"spacing":0,"bounds":"flush","resolve":{"scale":{"color":"independent","xOffset":"independent","opacity":"independent"},"legend":{"color":"independent","opacity":"independent"}}},
 {"width":803,"height":1,"data":{"values":[]},"mark":"text"},
 {"vconcat":[
  {"width":1,"height":182.6,"data":{"values":[]},"mark":"text","title":{"text":"G","orient":"bottom","anchor":"start","frame":"group","baseline":"alphabetic","offset":-45.6,"dx":-85,"fontSize":34,"fontWeight":"bold"}},
  {"width":386,"height":404,
   "data":{"values":[
    {"gene":"Pparg","series":"M2 BMDMs","mean":0.99,"upper":1.15},
    {"gene":"Pparg","series":"siRNA-Nadk","mean":1.766,"upper":1.97},
    {"gene":"Il10","series":"M2 BMDMs","mean":0.99,"upper":1.076},
    {"gene":"Il10","series":"siRNA-Nadk","mean":3.17,"upper":3.466},
    {"gene":"Nadk","series":"M2 BMDMs","mean":0.99,"upper":1.083},
    {"gene":"Nadk","series":"siRNA-Nadk","mean":0.345,"upper":0.445}]},
   "encoding":{"x":{"field":"gene","type":"nominal","scale":{"domain":["Pparg","Il10","Nadk"],"paddingInner":0.376,"paddingOuter":0.129},"axis":{"title":null,"labelAngle":0,"labelFontSize":28,"labelFontStyle":"italic","tickSize":17,"labelPadding":6}}},
   "layer":[
    {"mark":{"type":"rule","color":"black","strokeWidth":3},"encoding":{"xOffset":{"field":"series","type":"nominal","scale":{"domain":["M2 BMDMs","siRNA-Nadk"],"paddingInner":0.37,"paddingOuter":0}},"y":{"field":"mean","type":"quantitative","title":"Fold change","scale":{"domain":[0,4]}},"y2":{"field":"upper"}}},
    {"mark":{"type":"tick","orient":"horizontal","color":"black","opacity":1,"size":15,"thickness":3},"encoding":{"xOffset":{"field":"series","type":"nominal","scale":{"domain":["M2 BMDMs","siRNA-Nadk"],"paddingInner":0.37,"paddingOuter":0}},"y":{"field":"upper","type":"quantitative","title":"Fold change","scale":{"domain":[0,4]}}}},
    {"mark":{"type":"bar","stroke":"black","strokeWidth":3},"encoding":{"xOffset":{"field":"series","type":"nominal","scale":{"domain":["M2 BMDMs","siRNA-Nadk"],"paddingInner":0.37,"paddingOuter":0}},"y":{"field":"mean","type":"quantitative","title":"Fold change","scale":{"domain":[0,4]},"axis":{"values":[0,2,4],"format":"d","labelFontSize":26,"tickSize":16,"labelPadding":5,"titleFontSize":38,"titlePadding":15}},"color":{"field":"series","type":"nominal","scale":{"domain":["M2 BMDMs","siRNA-Nadk"],"range":["#000000","#2400ff"]},"legend":{"orient":"none","legendX":43.8,"legendY":-67.2,"title":null,"symbolType":"M-1.5,-0.5H1.5V0.5H-1.5Z","symbolSize":692,"labelFontSize":24,"labelOffset":30.8,"rowPadding":19}}}},
    {"data":{"values":[{"gene":"Pparg","level":2.145},{"gene":"Il10","level":3.586},{"gene":"Nadk","level":1.255}]},"mark":{"type":"tick","orient":"horizontal","color":"black","opacity":1,"size":60,"thickness":5.5},"encoding":{"y":{"field":"level","type":"quantitative","title":"Fold change","scale":{"domain":[0,4]}}}},
    {"data":{"values":[{"gene":"Pparg","level":2.1,"label":"*"},{"gene":"Il10","level":3.51,"label":"***"}]},"mark":{"type":"text","fontSize":40,"fontWeight":"bold","baseline":"alphabetic"},"encoding":{"y":{"field":"level","type":"quantitative","title":"Fold change","scale":{"domain":[0,4]}},"text":{"field":"label"}}},
    {"data":{"values":[{"gene":"Nadk","level":1.215,"label":"*  **"}]},"mark":{"type":"text","fontSize":40,"fontWeight":"bold","baseline":"alphabetic","dx":9},"encoding":{"y":{"field":"level","type":"quantitative","title":"Fold change","scale":{"domain":[0,4]}},"text":{"field":"label"}}}
   ]}
 ],"spacing":0,"bounds":"flush","resolve":{"scale":{"color":"independent","xOffset":"independent","opacity":"independent"},"legend":{"color":"independent","opacity":"independent"}}}
],"spacing":0,"bounds":"flush","resolve":{"scale":{"color":"independent","xOffset":"independent","opacity":"independent"},"legend":{"color":"independent","opacity":"independent"}}}
]
}
